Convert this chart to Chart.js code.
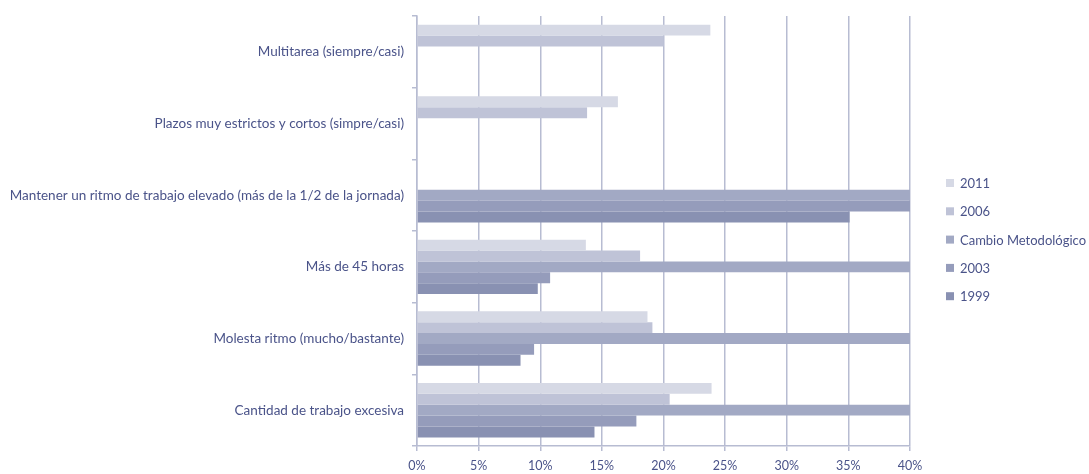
<!DOCTYPE html>
<html>
<head>
<meta charset="utf-8">
<script src="https://cdn.jsdelivr.net/npm/chart.js@4/dist/chart.umd.min.js"></script>
<style>
  html, body { margin: 0; padding: 0; background: #fff; }
  #wrap { width: 1089px; height: 474px; position: relative; }
</style>
</head>
<body>
<div id="wrap"><canvas id="chart"></canvas></div>
<script>
// categories, top to bottom
var categories = [
    'Multitarea (siempre/casi)',
    'Plazos muy estrictos y cortos (simpre/casi)',
    'Mantener un ritmo de trabajo elevado (más de la 1/2 de la jornada)',
    'Más de 45 horas',
    'Molesta ritmo (mucho/bastante)',
    'Cantidad de trabajo excesiva'
];

// series values (%)
var serie2011   = [23.8, 16.3, null, 13.7, 18.7, 23.9];
var serie2006   = [20.0, 13.8, null, 18.1, 19.1, 20.5];
var serieCambio = [null, null, 40, 40, 40, 40];
var serie2003   = [null, null, 40, 10.8, 9.5, 17.8];
var serie1999   = [null, null, 35.1, 9.8, 8.4, 14.4];

var seriesNames = ['2011', '2006', 'Cambio Metodológico', '2003', '1999'];
var seriesColors = ['#d6d9e5', '#bfc3d7', '#a2a9c4', '#959cbb', '#8991b2'];

var textColor = '#4a5389';
var gridColor = '#b7bcd2';
var fontFamily = 'Lato, "Open Sans", sans-serif';

var seriesData = [serie2011, serie2006, serieCambio, serie2003, serie1999];

var datasets = [];
for (var i = 0; i < seriesData.length; i++) {
    datasets.push({
        label: seriesNames[i],
        data: seriesData[i],
        backgroundColor: seriesColors[i],
        borderWidth: 0,
        categoryPercentage: 0.76,
        barPercentage: 1.0
    });
}

// legend drawn on the right, one item per row
var sideLegend = {
    id: 'sideLegend',
    afterDraw: function(chart) {
        var c = chart.ctx;
        var items = chart.data.datasets;
        c.save();
        c.font = '13px ' + fontFamily;
        c.textBaseline = 'middle';
        c.textAlign = 'left';
        for (var i = 0; i < items.length; i++) {
            var y = 183 + i * 28.3;
            c.fillStyle = items[i].backgroundColor;
            c.fillRect(946, y - 4, 8, 8);
            c.fillStyle = textColor;
            c.fillText(items[i].label, 960, y + 1);
        }
        c.restore();
    }
};

Chart.defaults.font.family = fontFamily;
Chart.defaults.color = textColor;

var ctx = document.getElementById('chart').getContext('2d');
var chart = new Chart(ctx, {
    type: 'bar',
    data: {
        labels: categories,
        datasets: datasets
    },
    plugins: [sideLegend],
    options: {
        indexAxis: 'y',
        responsive: true,
        maintainAspectRatio: false,
        animation: false,
        layout: {
            padding: { top: 12, bottom: 0, left: 0, right: 179 }
        },
        scales: {
            x: {
                min: 0,
                max: 40,
                ticks: {
                    stepSize: 5,
                    color: textColor,
                    font: { size: 12.5 },
                    padding: 7,
                    callback: function(v) { return v + '%'; }
                },
                grid: {
                    color: gridColor,
                    lineWidth: 1.5,
                    tickLength: 5
                },
                border: { color: gridColor, width: 1.5 },
                afterFit: function(scale) { scale.height = 28; }
            },
            y: {
                ticks: {
                    color: textColor,
                    font: { size: 13.5 },
                    padding: 8
                },
                grid: {
                    drawOnChartArea: false,
                    color: gridColor,
                    lineWidth: 1.5,
                    tickLength: 5
                },
                border: { color: gridColor, width: 1.5 },
                afterFit: function(scale) { scale.width = 417; }
            }
        },
        plugins: {
            legend: { display: false },
            tooltip: { enabled: false }
        }
    }
});
</script>
</body>
</html>
